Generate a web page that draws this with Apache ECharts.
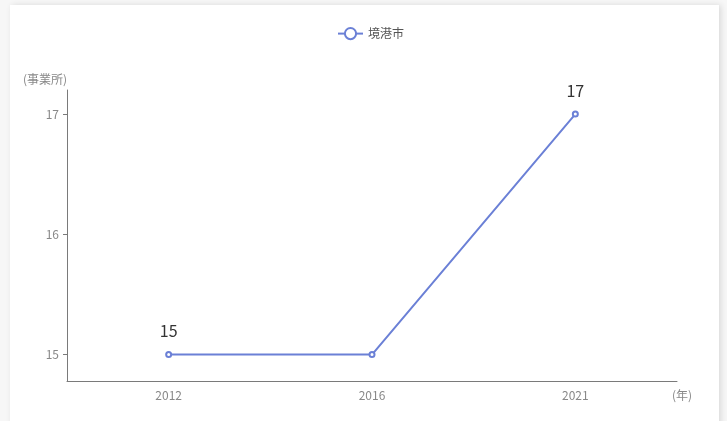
<!DOCTYPE html>
<html>
<head>
<meta charset="utf-8">
<script src="https://cdn.jsdelivr.net/npm/echarts@6/dist/echarts.min.js"></script>
<style>
html,body{margin:0;padding:0;width:727px;height:421px;overflow:hidden;background:#f7f7f7;}
#card{position:absolute;left:10px;top:5px;width:709px;height:440px;background:#fff;box-shadow:2px 0 6px rgba(0,0,0,0.12);}
#chart{position:absolute;left:0;top:0;width:727px;height:421px;}
</style>
</head>
<body>
<div id="card"></div>
<div id="chart"></div>
<script>
const categories = ['2012', '2016', '2021'];
const values = [15, 15, 17];
const showLabel = [true, false, true];
const yTicks = [15, 16, 17];
const seriesName = '境港市';

const font = "'Noto Sans CJK JP', 'Noto Sans', sans-serif";
const chart = echarts.init(document.getElementById('chart'));
chart.setOption({
  animation: false,
  textStyle: { fontFamily: font },
  legend: {
    left: 332, top: 22,
    itemWidth: 25, itemHeight: 14, itemGap: 10,
    textStyle: { color: '#555', fontSize: 12, fontFamily: font },
    data: [seriesName]
  },
  grid: { left: 67, right: 50, top: 90, bottom: 40, containLabel: false },
  xAxis: {
    type: 'category',
    data: categories,
    boundaryGap: true,
    name: '(年)',
    nameLocation: 'end',
    nameGap: -5,
    nameTextStyle: { color: '#888', fontSize: 12, verticalAlign: 'top', padding: [8, 0, 0, 0], fontFamily: font },
    axisLine: { lineStyle: { color: '#7a7a7a' } },
    axisTick: { alignWithLabel: true, length: 3, lineStyle: { color: '#7a7a7a' } },
    axisLabel: { color: '#888', fontSize: 12, margin: 8, fontFamily: font }
  },
  yAxis: {
    type: 'value',
    min: 14.78,
    max: 17.2,
    name: '(事業所)',
    nameLocation: 'end',
    nameGap: 5,
    nameTextStyle: { color: '#888', fontSize: 12, align: 'right', fontFamily: font },
    splitLine: { show: false },
    axisLine: { show: true, lineStyle: { color: '#7a7a7a' } },
    axisTick: { show: true, length: 4, customValues: yTicks, lineStyle: { color: '#7a7a7a' } },
    axisLabel: { color: '#888', fontSize: 12, margin: 8, customValues: yTicks, fontFamily: font }
  },
  series: [{
    name: seriesName,
    type: 'line',
    symbol: 'emptyCircle',
    symbolSize: 5,
    color: '#6b80d6',
    lineStyle: { width: 2, color: '#6b80d6' },
    itemStyle: { color: '#6b80d6', borderWidth: 1.5 },
    data: values.map((v, i) => ({
      value: v,
      label: { show: showLabel[i] }
    })),
    label: {
      position: 'top',
      distance: 12,
      color: '#333',
      fontSize: 16,
      fontFamily: font
    }
  }]
});
</script>
</body>
</html>
